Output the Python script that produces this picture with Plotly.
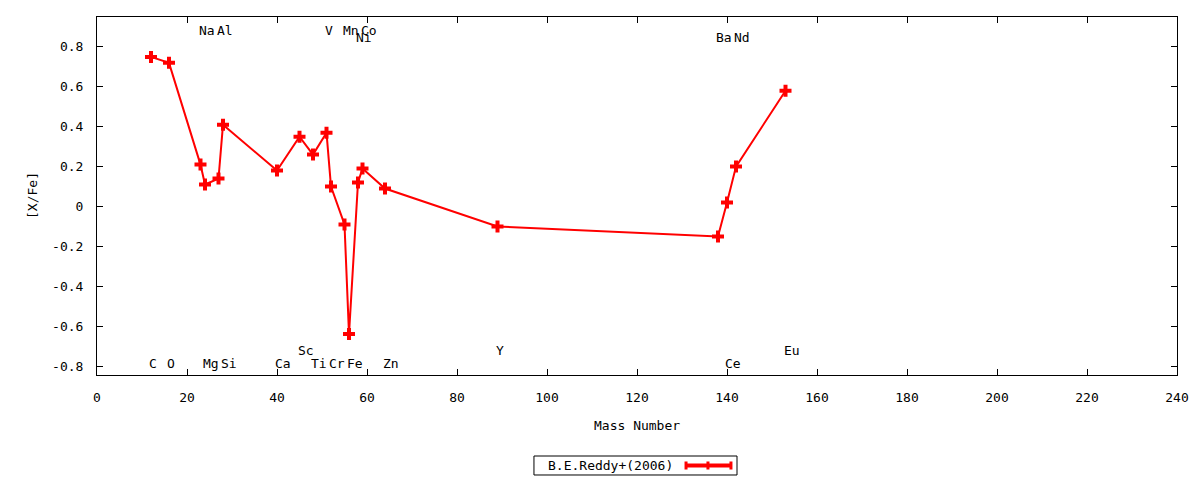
import plotly.graph_objects as go

# [X/Fe] abundances against mass number, B.E.Reddy+(2006)
elements = ["C", "O", "Na", "Mg", "Al", "Si", "Ca", "Sc", "Ti", "V", "Cr",
            "Mn", "Fe", "Ni", "Co", "Zn", "Y", "Ba", "Ce", "Nd", "Eu"]
mass = [12, 16, 23, 24, 27, 28, 40, 45, 48, 51, 52,
        55, 56, 58, 59, 64, 89, 138, 140, 142, 153]
xfe = [0.75, 0.72, 0.21, 0.11, 0.14, 0.41, 0.18, 0.35, 0.26, 0.37, 0.10,
       -0.09, -0.64, 0.12, 0.19, 0.09, -0.10, -0.15, 0.02, 0.20, 0.58]

x_ticks = [0, 20, 40, 60, 80, 100, 120, 140, 160, 180, 200, 220, 240]
y_ticks = [0.8, 0.6, 0.4, 0.2, 0, -0.2, -0.4, -0.6, -0.8]
y_tick_text = ["0.8", "0.6", "0.4", "0.2", "0", "-0.2", "-0.4", "-0.6", "-0.8"]

series_name = "B.E.Reddy+(2006)"

FONT = "DejaVu Sans Mono"
RED = "#ff0000"

# which row each element label sits in (top / second top / bottom / second bottom)
label_rows = {
    "Na": 0.883, "Al": 0.883, "V": 0.883, "Mn": 0.883, "Co": 0.883,
    "Ni": 0.848, "Ba": 0.848, "Nd": 0.848,
    "C": -0.785, "O": -0.785, "Mg": -0.785, "Si": -0.785, "Ca": -0.785,
    "Ti": -0.785, "Cr": -0.785, "Fe": -0.785, "Zn": -0.785, "Ce": -0.785,
    "Sc": -0.722, "Y": -0.722, "Eu": -0.722,
}

fig = go.Figure()
fig.add_trace(go.Scatter(
    x=mass, y=xfe, mode="lines+markers", name=series_name,
    line=dict(color=RED, width=2),
    marker=dict(symbol="cross", size=10, color=RED),
    showlegend=False,
))

for el, m in zip(elements, mass):
    fig.add_annotation(
        x=m, y=label_rows[el], text=el, showarrow=False,
        xanchor="left", yanchor="middle", xshift=-4,
        font=dict(family=FONT, size=13, color="black"),
    )

# axis titles
fig.add_annotation(x=0.5, y=0, xref="paper", yref="paper", text="Mass Number",
                   showarrow=False, yanchor="middle", yshift=-50,
                   font=dict(family=FONT, size=13, color="black"))
fig.add_annotation(x=0, y=0.5, xref="paper", yref="paper", text="[X/Fe]",
                   showarrow=False, xanchor="center", xshift=-65, textangle=-90,
                   font=dict(family=FONT, size=13, color="black"))

# gnuplot-style legend box: label first, sample after
fig.add_shape(type="rect", xref="paper", yref="paper",
              x0=0.4046, x1=0.5926, y0=-0.2793, y1=-0.2263,
              line=dict(color="black", width=1), fillcolor="white")
fig.add_annotation(x=0.4750, y=-0.2528, xref="paper", yref="paper", text=series_name,
                   showarrow=False, xanchor="center", yanchor="middle",
                   font=dict(family=FONT, size=13, color="black"))
fig.add_shape(type="line", xref="paper", yref="paper",
              x0=0.5454, x1=0.5870, y0=-0.2528, y1=-0.2528,
              line=dict(color=RED, width=4))
for xc in (0.5454, 0.5657, 0.5870):
    fig.add_shape(type="line", xref="paper", yref="paper",
                  x0=xc, x1=xc, y0=-0.2640, y1=-0.2416,
                  line=dict(color=RED, width=3))

axis_common = dict(
    showgrid=False, zeroline=False, showline=True, linecolor="black", linewidth=1,
    mirror="ticks", ticks="inside", ticklen=6, tickcolor="black",
    tickfont=dict(family=FONT, size=13, color="black"),
)
fig.update_xaxes(range=[0, 240], tickvals=x_ticks, ticklabelstandoff=10, **axis_common)
fig.update_yaxes(range=[-0.845, 0.95], tickvals=y_ticks, ticktext=y_tick_text,
                 ticklabelstandoff=10, **axis_common)

# the page body adds an 8px offset, so the figure is 8px smaller and margins shifted
fig.update_layout(
    width=1192, height=472,
    margin=dict(l=89, r=23, t=9, b=105),
    plot_bgcolor="white", paper_bgcolor="white",
    font=dict(family=FONT, size=13, color="black"),
)

fig.write_html("out.html")
